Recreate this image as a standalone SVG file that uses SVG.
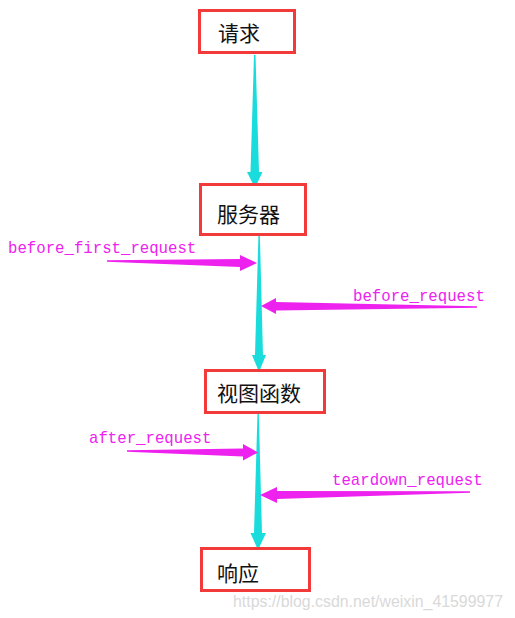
<svg xmlns="http://www.w3.org/2000/svg" width="515" height="618" viewBox="0 0 515 618">
<style>
.box{fill:#fff;stroke:#f23a3a;stroke-width:3}
.nt{font-family:"Noto Sans CJK SC","Noto Sans",sans-serif;font-size:21px;fill:#111}
.lb{font-family:"Liberation Mono","DejaVu Sans Mono",monospace;font-size:15.7px;fill:#ee22ee}
.cy{fill:#1adcdc}
.mg{fill:#ee22ee}
.wm{font-family:"Liberation Sans",Arial,sans-serif;font-size:16px;fill:#d9d9d9}
</style>
<rect width="515" height="618" fill="#fff"/>
<g id="connectors">
<polygon class="cy" points="254,55 255.5,55 259,172 262.5,172 255,188 247,172 250.5,172"/>
<polygon class="cy" points="258.5,233 259.8,233 263,355 266,355 259,372 252,355 255,355"/>
<polygon class="cy" points="257.5,413 258.8,413 262,533 266,533 258,550 250.5,533 254,533"/>
<polygon class="mg" points="107,260.3 107,261.7 240,267 240,271 257,263 240,255 240,259"/>
<polygon class="mg" points="477,306.3 477,307.7 276,310.5 276,314 261,306 276,298 276,302"/>
<polygon class="mg" points="127,450.3 127,451.7 243,456.5 243,460.5 258,452.5 243,444 243,448.5"/>
<polygon class="mg" points="470,491.3 470,492.7 277,499 277,503 260,495 277,487 277,491"/>
</g>
<g id="labels">
<text class="lb" x="8" y="253">before_first_request</text>
<text class="lb" x="353" y="301">before_request</text>
<text class="lb" x="89" y="443">after_request</text>
<text class="lb" x="332" y="485">teardown_request</text>
</g>
<g id="n_request"><rect class="box" x="199.5" y="10.5" width="95" height="42"/><text class="nt" x="218" y="41">请求</text></g>
<g id="n_server"><rect class="box" x="200.5" y="184.5" width="105" height="50"/><text class="nt" x="217" y="222">服务器</text></g>
<g id="n_view"><rect class="box" x="205.5" y="370.5" width="119" height="42"/><text class="nt" x="217" y="401">视图函数</text></g>
<g id="n_response"><rect class="box" x="201.5" y="548.5" width="108" height="42"/><text class="nt" x="217" y="581">响应</text></g>
<text class="wm" x="233" y="607" textLength="270" lengthAdjust="spacingAndGlyphs">https://blog.csdn.net/weixin_41599977</text>
</svg>
